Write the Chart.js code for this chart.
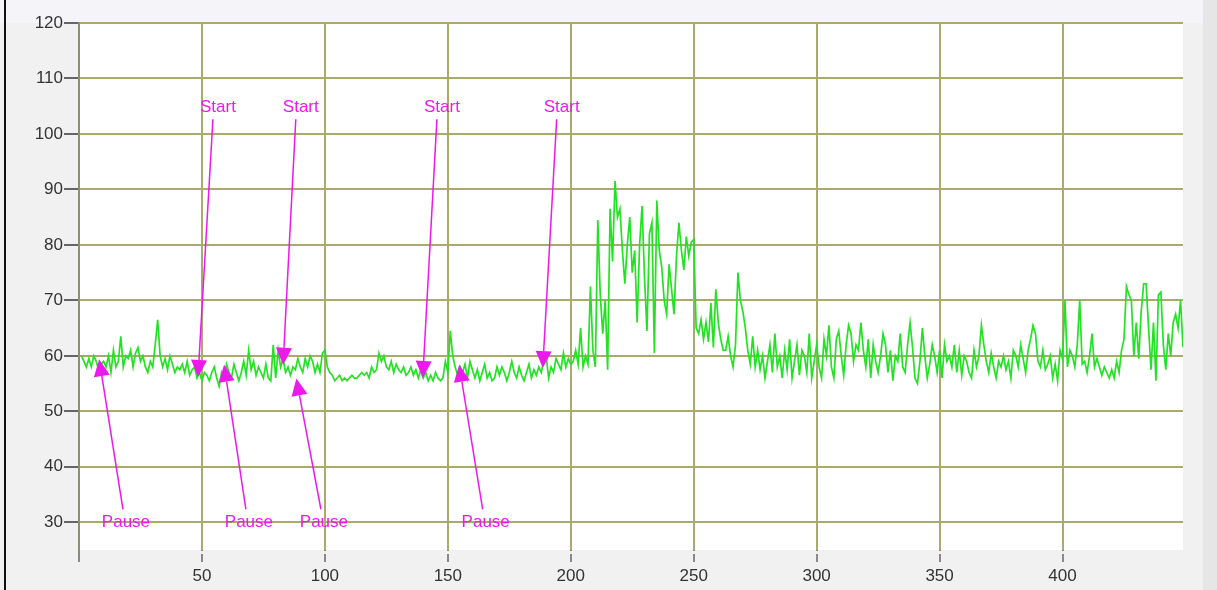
<!DOCTYPE html>
<html>
<head>
<meta charset="utf-8">
<script src="https://cdn.jsdelivr.net/npm/chart.js@4/dist/chart.umd.min.js"></script>
<style>
  html, body { margin: 0; padding: 0; background: #fff; }
  #wrap { position: relative; width: 1217px; height: 590px; }
  #edge { position: absolute; left: 4px; top: 0; width: 2px; height: 590px; background: #111; }
  canvas { position: absolute; left: 0; top: 0; }
</style>
</head>
<body>
<div id="wrap">
  <canvas id="myChart" width="1217" height="590"></canvas>
  <div id="edge"></div>
</div>
<script>
// first sample sits at x = 1, one sample per unit
const firstX = 1;
const values = [
  60, 59, 58, 59.5, 58, 60, 59, 57.5, 58.5, 59,
  58, 60, 57, 61, 58, 59, 63.5, 58, 60, 59.5,
  61, 58, 60.5, 61.5, 59, 60, 58, 57, 59, 58,
  62, 66.5, 60, 58, 59.5, 57.5, 60, 58.5, 57, 58,
  57.5, 58.5, 57, 59, 56.5, 57.5, 58, 56, 57, 55.5,
  57, 56.5, 55.5, 57, 58, 56, 54.5, 57, 56, 58.5,
  57, 56, 58.5, 57, 55.5, 57, 59, 56.5, 61, 57.5,
  59, 56.5, 58, 57, 56, 58.5, 56, 55.5, 62, 56,
  61, 58, 59.5, 57, 58, 56.5, 58, 57.5, 59.5, 58,
  57, 59.5, 58, 60, 59, 57, 58.5, 57, 60.5, 61,
  58, 57, 56.5, 55.5, 56, 56.5, 55.5, 56, 55.5, 56,
  56.5, 56, 56, 56.5, 57, 56.5, 57, 56, 58, 57,
  57.5, 60.5, 59, 60, 58, 57.5, 59, 57, 58.5, 57.5,
  57, 58, 56.5, 57, 58, 56.5, 57.5, 56, 57.5, 56,
  57, 55.5, 56.5, 55.5, 57, 56, 55.5, 56, 59, 57,
  64.5, 60, 58, 56.5, 58, 57, 58.5, 56, 59, 57.5,
  56, 57.5, 55.5, 57, 58.5, 56, 57, 55.5, 56, 58,
  56.5, 58, 57, 55.5, 57, 59, 57, 56, 58, 56.5,
  55.5, 57, 58.5, 56, 57.5, 56.5, 58, 57, 59, 60,
  56, 58, 57, 59.5, 58.5, 57.5, 60.5, 58, 59.5, 58.5,
  59, 61, 58.5, 65, 58, 60, 58.5, 72.5, 61, 58,
  84.5, 71, 64, 70, 57.5, 86.5, 77, 91.5, 85, 86.5,
  79, 73, 80, 85, 75, 79, 66, 80, 87, 74,
  64.5, 82, 84, 60.5, 88, 79, 76, 70, 67.5, 76.5,
  72, 67.5, 78, 84, 79, 75.5, 81.5, 78, 80.5, 81,
  65, 64, 66.5, 63, 66, 62.5, 69.5, 61.5, 72, 66,
  63, 61, 61, 63.5, 60, 58, 62, 75, 70, 68,
  65, 61, 58.5, 63.5, 58, 61, 57.5, 60, 56, 59,
  62, 57, 64, 58, 60, 56, 61, 57.5, 63, 56,
  59, 62, 56.5, 61, 60, 57, 64, 56, 59, 62,
  58, 56, 63, 60, 65.5, 58, 56, 63, 64.5, 60,
  56.5, 62, 65.5, 64, 59, 62, 61, 66, 61, 58,
  63, 56, 62, 59, 57, 60, 64, 62, 57, 61,
  55.5, 60, 59, 64, 58, 57, 62, 66, 61.5, 56,
  55, 59, 65, 60, 56, 58.5, 62, 60, 57, 61,
  56, 62, 59, 60, 58, 62, 57, 61, 56.5, 60,
  59, 57, 56, 61, 58, 60, 65.5, 62, 59, 57,
  60.5, 58, 56, 59, 58, 60, 57.5, 59, 56, 61,
  60, 58, 62, 59.5, 57, 61, 63, 65.5, 64, 59,
  58, 61, 57.5, 58.5, 60, 56, 58.5, 55.5, 61, 59.5,
  70, 58, 61, 60, 58, 62, 70, 58.5, 59, 57,
  60, 64, 58, 59.5, 58, 56.5, 58, 57, 56, 57.5,
  56, 59, 57, 61, 63, 72.5, 71, 70, 60, 66,
  59.5, 68, 73, 73, 65, 57.5, 66, 55.5, 71, 71.5,
  62, 57.5, 64, 60, 66, 67.5, 65, 70, 61.5
];

const xTicks = [0, 50, 100, 150, 200, 250, 300, 350, 400];
const yTicks = [30, 40, 50, 60, 70, 80, 90, 100, 110, 120];

// annotation arrows: label position and arrow tip, in data units
const startLabelX = [56.5, 90.2, 147.6, 196.3];
const startTipX   = [48.4, 83.0, 139.8, 188.6];
const startTipY   = [56.2, 58.4, 56.0, 57.8];
const startLabelY = 104.8;

const pauseLabelX = [19.1, 69.1, 99.6, 165.4];
const pauseTipX   = [8.2, 59.0, 88.4, 154.6];
const pauseTipY   = [59.4, 58.4, 55.9, 58.4];
const pauseLabelY = 30;

const pink = 'rgb(236,24,236)';
const fontFamily = '"Liberation Sans", Arial, sans-serif';

const backdrop = {
  id: 'backdrop',
  beforeDraw(chart) {
    const { ctx, chartArea: a, width, height } = chart;
    ctx.save();
    ctx.fillStyle = '#f1f1f1';
    ctx.fillRect(0, 0, width, height);
    ctx.fillStyle = '#f5f5f9';
    ctx.fillRect(0, 0, width, a.top);
    ctx.fillStyle = '#e6e6e6';
    ctx.fillRect(1203, 0, width - 1203, height);
    ctx.fillStyle = '#ffffff';
    ctx.fillRect(a.left, a.top, a.right - a.left, a.bottom - a.top);
    ctx.restore();
  },
  afterDraw(chart) {
    // small gap between the plot and the x tick marks
    const { ctx, chartArea: a } = chart;
    ctx.save();
    ctx.fillStyle = '#f1f1f1';
    ctx.fillRect(a.left + 2, a.bottom + 1, a.right - a.left, 3);
    ctx.restore();
  }
};

function arrow(ctx, x0, y0, x1, y1) {
  const ang = Math.atan2(y1 - y0, x1 - x0);
  const len = 17, half = 8;
  const bx = x1 - len * Math.cos(ang), by = y1 - len * Math.sin(ang);
  ctx.beginPath();
  ctx.moveTo(x0, y0);
  ctx.lineTo(bx, by);
  ctx.stroke();
  ctx.beginPath();
  ctx.moveTo(x1, y1);
  ctx.lineTo(bx + half * Math.sin(ang), by - half * Math.cos(ang));
  ctx.lineTo(bx - half * Math.sin(ang), by + half * Math.cos(ang));
  ctx.closePath();
  ctx.fill();
}

const marks = {
  id: 'marks',
  afterDatasetsDraw(chart) {
    const { ctx, scales: { x, y } } = chart;
    ctx.save();
    ctx.strokeStyle = pink;
    ctx.fillStyle = pink;
    ctx.lineWidth = 1.5;
    ctx.font = '17px ' + fontFamily;
    ctx.textAlign = 'center';
    ctx.textBaseline = 'middle';
    const sy = y.getPixelForValue(startLabelY);
    startLabelX.forEach((lx, i) => {
      const px = x.getPixelForValue(lx);
      ctx.fillText('Start', px, sy);
      arrow(ctx, px - 5, sy + 12, x.getPixelForValue(startTipX[i]), y.getPixelForValue(startTipY[i]));
    });
    const py = y.getPixelForValue(pauseLabelY);
    pauseLabelX.forEach((lx, i) => {
      const px = x.getPixelForValue(lx);
      ctx.fillText('Pause', px, py);
      arrow(ctx, px - 3, py - 13, x.getPixelForValue(pauseTipX[i]), y.getPixelForValue(pauseTipY[i]));
    });
    ctx.restore();
  }
};

const ctx = document.getElementById('myChart').getContext('2d');
const myChart = new Chart(ctx, {
  type: 'line',
  data: {
    datasets: [{
      data: values.map((v, i) => ({ x: firstX + i, y: v })),
      borderColor: 'rgb(34,226,34)',
      borderWidth: 1.7,
      pointRadius: 0,
      tension: 0
    }]
  },
  options: {
    responsive: false,
    animation: false,
    layout: { padding: { left: 0, right: 34, top: 23, bottom: 0 } },
    plugins: { legend: { display: false }, tooltip: { enabled: false } },
    scales: {
      x: {
        type: 'linear',
        min: 0,
        max: 449,
        afterBuildTicks: s => { s.ticks = xTicks.map(v => ({ value: v })); },
        afterFit: s => { s.height = 40; },
        grid: { color: 'rgb(170,170,108)', lineWidth: 2, tickLength: 12, tickColor: '#888', tickWidth: 2 },
        border: { display: false },
        ticks: {
          padding: 4,
          maxRotation: 0,
          color: '#333',
          font: { family: fontFamily, size: 17 },
          callback: v => v === 0 ? '' : v
        }
      },
      y: {
        min: 25,
        max: 120,
        afterBuildTicks: s => { s.ticks = yTicks.map(v => ({ value: v })); },
        afterFit: s => { s.width = 79; },
        grid: { color: 'rgb(170,170,108)', lineWidth: 2, tickLength: 15, tickColor: '#666', tickWidth: 2 },
        border: { display: true, color: '#8d8d78', width: 2 },
        ticks: {
          padding: 1,
          color: '#333',
          font: { family: fontFamily, size: 17 }
        }
      }
    }
  },
  plugins: [backdrop, marks]
});
</script>
</body>
</html>
